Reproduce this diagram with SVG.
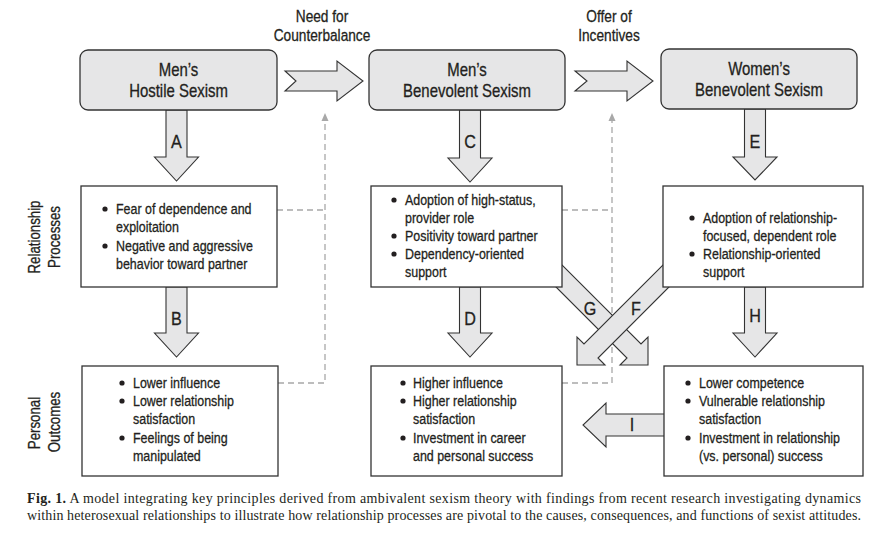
<svg xmlns="http://www.w3.org/2000/svg" width="879" height="534" viewBox="0 0 879 534">
<style>
.box{fill:#fff;stroke:#333;stroke-width:1.3}
.tbox{fill:#e6e6e7;stroke:#333;stroke-width:1.3}
.arr{fill:#e6e6e7;stroke:#333;stroke-width:1.1;stroke-linejoin:miter}
.dash{fill:none;stroke:#a8a8a8;stroke-width:1.3;stroke-dasharray:6 4}
.dh{fill:#a8a8a8}
.t{font-family:"Liberation Sans",Arial,sans-serif;fill:#231f20;stroke:#231f20;stroke-width:0.3}
.title{font-size:18px;text-anchor:middle}
.body{font-size:15px}
.lbl{font-size:19px;text-anchor:middle}
.side{font-size:16px;text-anchor:middle}
.cap{font-family:"Liberation Serif","Times New Roman",serif;font-size:14px;fill:#231f20}
.bul{fill:#231f20}
</style>
<rect width="879" height="534" fill="#fff"/>

<g id="connectors">
  <path class="dash" d="M277,210 H325 M278,383 H325 V121"/>
  <polygon class="dh" points="325,113 321.5,121 328.5,121"/>
  <path class="dash" d="M562,210 H612 M562,383 H612 V121"/>
  <polygon class="dh" points="612,113 608.5,121 615.5,121"/>
  <polygon class="arr" points="285,71 337,71 337,61 363,81 337,101 337,91 285,91 296,81"/>
  <polygon class="arr" points="575,71 627,71 627,61 653,81 627,101 627,91 575,91 587,81"/>
  <polygon class="arr" points="166,110 187,110 187,157 198.5,157 176.5,181 154.5,157 166,157"/>
  <polygon class="arr" points="166,287 187,287 187,333 198.5,333 176.5,357 154.5,333 166,333"/>
  <polygon class="arr" points="459.5,110 480.5,110 480.5,158 492,158 470,182 448,158 459.5,158"/>
  <polygon class="arr" points="459.5,287 480.5,287 480.5,333 492,333 470,357 448,333 459.5,333"/>
  <polygon class="arr" points="744.5,109 765.5,109 765.5,157 777,157 755,180 733,157 744.5,157"/>
  <polygon class="arr" points="744.5,287 765.5,287 765.5,333 777,333 755,357 733,333 744.5,333"/>
  <polygon class="arr" points="648,365 648,337 641,344 545,248 531,262 627,358 620,365"/>
  <polygon class="arr" points="577,365 577,337 584,344 680,248 694,262 598,358 605,365"/>
  <polygon class="arr" points="665,414 606,414 606,403 583,425 606,447 606,436 665,436"/>
  <text class="t lbl" transform="matrix(0.85,0,0,1,176.5,148)">A</text>
  <text class="t lbl" transform="matrix(0.85,0,0,1,176.5,325)">B</text>
  <text class="t lbl" transform="matrix(0.85,0,0,1,470,148)">C</text>
  <text class="t lbl" transform="matrix(0.85,0,0,1,470,325)">D</text>
  <text class="t lbl" transform="matrix(0.85,0,0,1,755,148)">E</text>
  <text class="t lbl" transform="matrix(0.85,0,0,1,755,322)">H</text>
  <text class="t lbl" transform="matrix(0.85,0,0,1,590,315)">G</text>
  <text class="t lbl" transform="matrix(0.85,0,0,1,636,315)">F</text>
  <text class="t lbl" transform="matrix(0.85,0,0,1,632,431)">I</text>
  <text class="t title" style="font-size:16.5px" transform="matrix(0.83,0,0,1,322,22)">Need for</text>
  <text class="t title" style="font-size:16.5px" transform="matrix(0.83,0,0,1,322,41)">Counterbalance</text>
  <text class="t title" style="font-size:16.5px" transform="matrix(0.83,0,0,1,609,22)">Offer of</text>
  <text class="t title" style="font-size:16.5px" transform="matrix(0.83,0,0,1,609,41)">Incentives</text>
</g>

<g id="mhs">
  <rect class="tbox" x="80" y="50" width="197" height="60" rx="8"/>
  <text class="t title" transform="matrix(0.83,0,0,1,178.5,76)">Men’s</text>
  <text class="t title" transform="matrix(0.83,0,0,1,178.5,97)">Hostile Sexism</text>
</g>
<g id="mbs">
  <rect class="tbox" x="369" y="50" width="196" height="60" rx="8"/>
  <text class="t title" transform="matrix(0.83,0,0,1,467,76)">Men’s</text>
  <text class="t title" transform="matrix(0.83,0,0,1,467,97)">Benevolent Sexism</text>
</g>
<g id="wbs">
  <rect class="tbox" x="661" y="49" width="196" height="60" rx="8"/>
  <text class="t title" transform="matrix(0.83,0,0,1,759,75)">Women’s</text>
  <text class="t title" transform="matrix(0.83,0,0,1,759,96)">Benevolent Sexism</text>
</g>

<g id="side-labels">
  <text class="t side" transform="matrix(0,-0.83,1,0,40,237)">Relationship</text>
  <text class="t side" transform="matrix(0,-0.83,1,0,60,237)">Processes</text>
  <text class="t side" transform="matrix(0,-0.83,1,0,40,423)">Personal</text>
  <text class="t side" transform="matrix(0,-0.83,1,0,60,422)">Outcomes</text>
</g>

<g id="rp1">
  <rect class="box" x="81" y="186" width="196" height="101"/>
  <circle class="bul" cx="105" cy="209" r="2.6"/>
  <circle class="bul" cx="105" cy="246" r="2.6"/>
  <text class="t body" transform="matrix(0.83,0,0,1,116,214)">Fear of dependence and</text>
  <text class="t body" transform="matrix(0.83,0,0,1,116,232)">exploitation</text>
  <text class="t body" transform="matrix(0.83,0,0,1,116,251)">Negative and aggressive</text>
  <text class="t body" transform="matrix(0.83,0,0,1,116,269)">behavior toward partner</text>
</g>
<g id="rp2">
  <rect class="box" x="371" y="186" width="191" height="101"/>
  <circle class="bul" cx="394" cy="200" r="2.6"/>
  <circle class="bul" cx="394" cy="236" r="2.6"/>
  <circle class="bul" cx="394" cy="254" r="2.6"/>
  <text class="t body" transform="matrix(0.83,0,0,1,405,205)">Adoption of high-status,</text>
  <text class="t body" transform="matrix(0.83,0,0,1,405,223)">provider role</text>
  <text class="t body" transform="matrix(0.83,0,0,1,405,241)">Positivity toward partner</text>
  <text class="t body" transform="matrix(0.83,0,0,1,405,259)">Dependency-oriented</text>
  <text class="t body" transform="matrix(0.83,0,0,1,405,277)">support</text>
</g>
<g id="rp3">
  <rect class="box" x="663" y="186" width="200" height="101"/>
  <circle class="bul" cx="692" cy="218" r="2.6"/>
  <circle class="bul" cx="692" cy="254" r="2.6"/>
  <text class="t body" transform="matrix(0.83,0,0,1,703,223)">Adoption of relationship-</text>
  <text class="t body" transform="matrix(0.83,0,0,1,703,241)">focused, dependent role</text>
  <text class="t body" transform="matrix(0.83,0,0,1,703,259)">Relationship-oriented</text>
  <text class="t body" transform="matrix(0.83,0,0,1,703,277)">support</text>
</g>

<g id="po1">
  <rect class="box" x="82" y="366" width="196" height="110"/>
  <circle class="bul" cx="122" cy="383" r="2.6"/>
  <circle class="bul" cx="122" cy="401" r="2.6"/>
  <circle class="bul" cx="122" cy="438" r="2.6"/>
  <text class="t body" transform="matrix(0.83,0,0,1,133,388)">Lower influence</text>
  <text class="t body" transform="matrix(0.83,0,0,1,133,406)">Lower relationship</text>
  <text class="t body" transform="matrix(0.83,0,0,1,133,424)">satisfaction</text>
  <text class="t body" transform="matrix(0.83,0,0,1,133,443)">Feelings of being</text>
  <text class="t body" transform="matrix(0.83,0,0,1,133,461)">manipulated</text>
</g>
<g id="po2">
  <rect class="box" x="371" y="366" width="191" height="110"/>
  <circle class="bul" cx="403" cy="383" r="2.6"/>
  <circle class="bul" cx="403" cy="401" r="2.6"/>
  <circle class="bul" cx="403" cy="438" r="2.6"/>
  <text class="t body" transform="matrix(0.83,0,0,1,413,388)">Higher influence</text>
  <text class="t body" transform="matrix(0.83,0,0,1,413,406)">Higher relationship</text>
  <text class="t body" transform="matrix(0.83,0,0,1,413,424)">satisfaction</text>
  <text class="t body" transform="matrix(0.83,0,0,1,413,443)">Investment in career</text>
  <text class="t body" transform="matrix(0.83,0,0,1,413,461)">and personal success</text>
</g>
<g id="po3">
  <rect class="box" x="664" y="366" width="199" height="110"/>
  <circle class="bul" cx="688" cy="383" r="2.6"/>
  <circle class="bul" cx="688" cy="401" r="2.6"/>
  <circle class="bul" cx="688" cy="438" r="2.6"/>
  <text class="t body" transform="matrix(0.83,0,0,1,699,388)">Lower competence</text>
  <text class="t body" transform="matrix(0.83,0,0,1,699,406)">Vulnerable relationship</text>
  <text class="t body" transform="matrix(0.83,0,0,1,699,424)">satisfaction</text>
  <text class="t body" transform="matrix(0.83,0,0,1,699,443)">Investment in relationship</text>
  <text class="t body" transform="matrix(0.83,0,0,1,699,461)">(vs. personal) success</text>
</g>

<g id="caption">
  <text class="cap" x="27" y="503" textLength="834" lengthAdjust="spacing"><tspan font-weight="bold">Fig. 1.</tspan> A model integrating key principles derived from ambivalent sexism theory with findings from recent research investigating dynamics</text>
  <text class="cap" x="27" y="520" textLength="834" lengthAdjust="spacing">within heterosexual relationships to illustrate how relationship processes are pivotal to the causes, consequences, and functions of sexist attitudes.</text>
</g>
</svg>
